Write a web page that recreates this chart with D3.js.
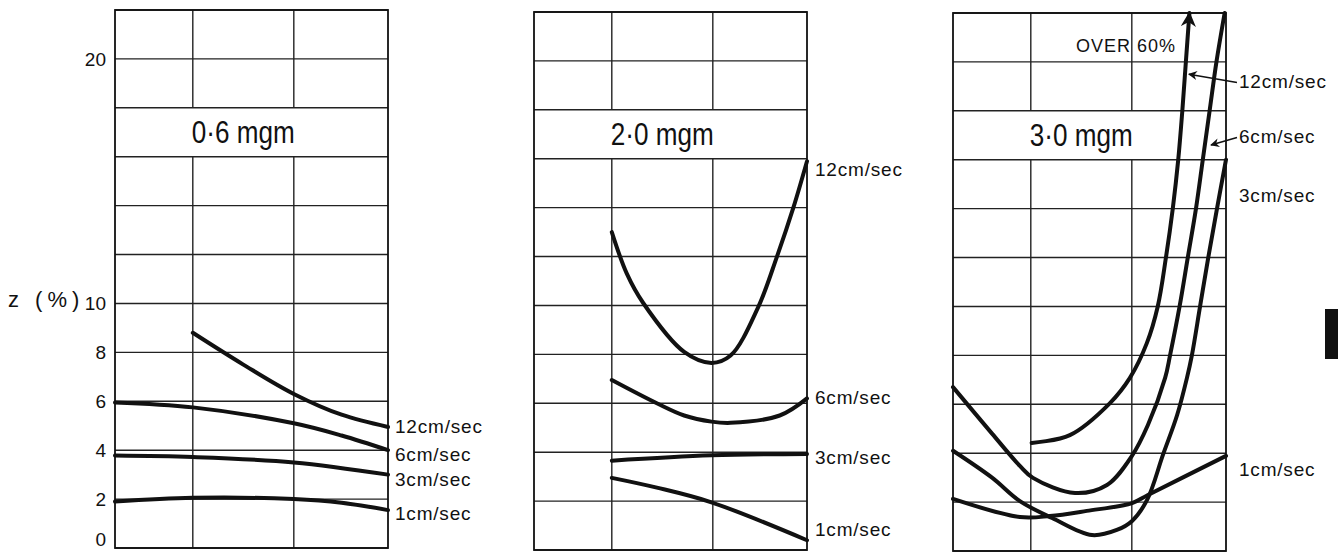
<!DOCTYPE html>
<html>
<head>
<meta charset="utf-8">
<script src="https://cdn.jsdelivr.net/npm/d3@7"></script>
<style>
	body { margin: 0; background: #fff; }
	svg { display: block; font-family: "Liberation Sans", Arial, sans-serif; fill: #111; }
	.grid line { stroke: #222; stroke-width: 1.4; }
	.frame { fill: none; stroke: #111; stroke-width: 1.8; }
	.curve { fill: none; stroke: #111; stroke-width: 4; stroke-linecap: round; }
	.leader { stroke: #111; stroke-width: 1.5; }
	.title { font-size: 31px; }
	.speed { font-size: 19px; letter-spacing: 0.8px; }
	.axis text { font-size: 19px; fill: #111; }
	.axis-label { font-size: 22px; letter-spacing: 5px; }
	.note { font-size: 18px; letter-spacing: 1px; }
</style>
</head>
<body>
<svg id="chart" width="1338" height="552"></svg>
<script>
	var doses = ['0·6 mgm', '2·0 mgm', '3·0 mgm'];
	var speeds = ['12cm/sec', '6cm/sec', '3cm/sec', '1cm/sec'];
	var yTicks = [0, 2, 4, 6, 8, 10, 20];
	var yGrid = d3.range(0, 23, 2);
	var xGrid = [0.285, 0.655]; // inner column lines, fraction of panel width

	// [x (fraction of panel width), z %]
	var dose06_12 = [[0.285, 8.8], [0.47, 7.5], [0.655, 6.3], [0.83, 5.45], [1, 4.95]];
	var dose06_6 = [[0, 5.95], [0.285, 5.75], [0.655, 5.1], [0.83, 4.6], [1, 4.0]];
	var dose06_3 = [[0, 3.78], [0.285, 3.72], [0.655, 3.5], [1, 3.0]];
	var dose06_1 = [[0, 1.9], [0.285, 2.05], [0.655, 2.0], [0.83, 1.85], [1, 1.55]];

	var dose20_12 = [[0.285, 13.0], [0.34, 11.3], [0.4, 10.1], [0.55, 8.1], [0.65, 7.65], [0.72, 7.95], [0.82, 9.9], [0.89, 12.0], [0.95, 14.0], [1, 15.9]];
	var dose20_6 = [[0.285, 6.95], [0.45, 6.0], [0.55, 5.5], [0.65, 5.25], [0.72, 5.2], [0.9, 5.5], [1, 6.2]];
	var dose20_3 = [[0.285, 3.65], [0.65, 3.87], [1, 3.93]];
	var dose20_1 = [[0.285, 2.95], [0.45, 2.55], [0.65, 1.95], [1, 0.4]];

	var dose30_12 = [[0.288, 4.42], [0.428, 4.74], [0.575, 6.05], [0.648, 7.08], [0.71, 8.5], [0.75, 10.0], [0.78, 12.0], [0.805, 14.0], [0.825, 16.0], [0.84, 18.0], [0.853, 20.0], [0.866, 22.0]];
	var dose30_6 = [[0, 6.7], [0.143, 4.8], [0.245, 3.48], [0.293, 2.99], [0.447, 2.37], [0.564, 2.7], [0.656, 3.9], [0.714, 5.15], [0.777, 7.08], [0.795, 8.0], [0.83, 10.0], [0.86, 12.0], [0.89, 14.0], [0.915, 16.0], [0.94, 18.0], [0.965, 20.0], [0.995, 22.0]];
	var dose30_3 = [[0, 4.1], [0.143, 3.0], [0.245, 2.04], [0.363, 1.35], [0.509, 0.65], [0.6, 0.86], [0.656, 1.23], [0.711, 2.09], [0.769, 3.93], [0.821, 5.56], [0.857, 7.08], [0.875, 8.0], [0.905, 10.0], [0.935, 12.0], [0.967, 14.0], [1, 16.0]];
	var dose30_1 = [[0, 2.13], [0.245, 1.39], [0.355, 1.43], [0.49, 1.64], [0.656, 1.96], [0.714, 2.29], [1, 3.89]];

	var panelSeries = [
		[dose06_12, dose06_6, dose06_3, dose06_1],
		[dose20_12, dose20_6, dose20_3, dose20_1],
		[dose30_12, dose30_6, dose30_3, dose30_1]
	];

	// layout
	var width = 273, height = 538;
	var panelPos = [{ x: 115, y: 10 }, { x: 534, y: 12 }, { x: 953, y: 13 }];
	var labelZ = [[4.99, 3.84, 2.82, 1.43], [15.57, 6.23, 3.77, 0.86], [19.2, 16.95, 14.56, 3.35]];
	var labelGap = [7, 8, 13];

	var svg = d3.select('#chart');
	var defs = svg.append('defs');
	defs.append('marker')
		.attr('id', 'bigArrow')
		.attr('viewBox', '0 0 10 10')
		.attr('refX', 9).attr('refY', 5)
		.attr('markerWidth', 20).attr('markerHeight', 15)
		.attr('markerUnits', 'userSpaceOnUse')
		.attr('orient', 'auto')
		.append('path').attr('d', 'M0,0 L10,5 L0,10 L3,5 Z').attr('fill', '#111');
	defs.append('marker')
		.attr('id', 'smallArrow')
		.attr('viewBox', '0 0 10 10')
		.attr('refX', 9).attr('refY', 5)
		.attr('markerWidth', 11).attr('markerHeight', 9)
		.attr('markerUnits', 'userSpaceOnUse')
		.attr('orient', 'auto')
		.append('path').attr('d', 'M0,0 L10,5 L0,10 L3,5 Z').attr('fill', '#111');

	var x = d3.scaleLinear().domain([0, 1]).range([0, width]);
	var y = d3.scaleLinear().domain([0, 22]).range([height, 0]);

	var line = d3.line()
		.x(function(d) { return x(d[0]); })
		.y(function(d) { return y(d[1]); })
		.curve(d3.curveCatmullRom.alpha(0.5));

	panelSeries.forEach(function(series, p) {
		var g = svg.append('g')
			.attr('transform', 'translate(' + panelPos[p].x + ',' + panelPos[p].y + ')');

		var grid = g.append('g').attr('class', 'grid');
		grid.selectAll('.h').data(yGrid).enter().append('line')
			.attr('x1', 0).attr('x2', width)
			.attr('y1', function(d) { return y(d); })
			.attr('y2', function(d) { return y(d); });
		// inner vertical lines stop at the title band (16-18)
		xGrid.forEach(function(v) {
			grid.append('line').attr('x1', x(v)).attr('x2', x(v)).attr('y1', y(0)).attr('y2', y(16));
			grid.append('line').attr('x1', x(v)).attr('x2', x(v)).attr('y1', y(18)).attr('y2', y(22));
		});
		g.append('rect').attr('class', 'frame')
			.attr('width', width).attr('height', height);

		g.append('text').attr('class', 'title')
			.attr('x', (x(xGrid[0]) + x(xGrid[1])) / 2)
			.attr('y', y(17))
			.attr('dy', '0.35em')
			.attr('text-anchor', 'middle')
			.attr('textLength', 103)
			.attr('lengthAdjust', 'spacingAndGlyphs')
			.text(doses[p]);

		g.selectAll('.curve').data(series).enter().append('path')
			.attr('class', 'curve')
			.attr('d', line);

		g.selectAll('.speed').data(speeds).enter().append('text')
			.attr('class', 'speed')
			.attr('x', width + labelGap[p])
			.attr('y', function(d, i) { return y(labelZ[p][i]); })
			.attr('dy', '0.35em')
			.text(function(d) { return d; });

		if (p === 0) {
			var axis = d3.axisLeft(y).tickValues(yTicks).tickSize(0).tickPadding(9);
			g.append('g').attr('class', 'axis').call(axis)
				.call(function(a) {
					a.select('.domain').remove();
					// keep the bottom "0" inside the page
					a.selectAll('.tick text').filter(function(d) { return d === 0; }).attr('dy', '-0.15em');
				});
			g.append('text').attr('class', 'axis-label')
				.attr('x', -107).attr('y', y(10.15))
				.attr('dy', '0.35em')
				.text('z (%)');
		}

		if (p === 2) {
			// the 12cm/sec curve runs off the top
			g.select('.curve').attr('marker-end', 'url(#bigArrow)');
			g.append('text').attr('class', 'note')
				.attr('x', x(0.817)).attr('y', y(20.4))
				.attr('text-anchor', 'end')
				.text('OVER 60%');
			var leaders = [{ z: 19.5, tx: 0.864, i: 0 }, { z: 16.6, tx: 0.945, i: 1 }];
			leaders.forEach(function(l) {
				g.append('line').attr('class', 'leader')
					.attr('x1', width + labelGap[p] - 2)
					.attr('y1', y(labelZ[p][l.i]) + 1)
					.attr('x2', x(l.tx))
					.attr('y2', y(l.z))
					.attr('marker-end', 'url(#smallArrow)');
			});
		}
	});

	// dark tab at the right edge of the scanned page
	svg.append('rect').attr('x', 1325).attr('y', 309).attr('width', 13).attr('height', 50).attr('fill', '#111');
</script>
</body>
</html>
